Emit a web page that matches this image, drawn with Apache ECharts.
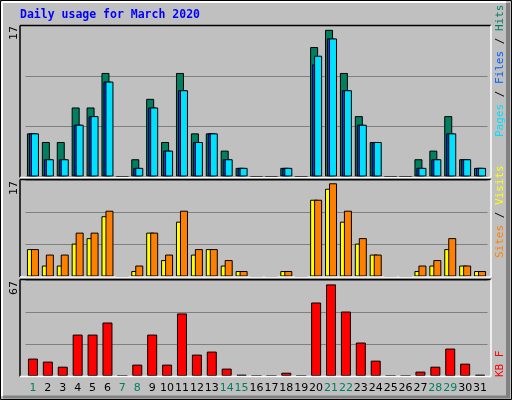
<!DOCTYPE html>
<html>
<head>
<meta charset="utf-8">
<script src="https://cdn.jsdelivr.net/npm/echarts@6/dist/echarts.min.js"></script>
<style>body{margin:0;background:#c0c0c0}#c{width:512px;height:400px}</style>
</head>
<body>
<div id="c"></div>
<script>
// daily usage, March 2020
var days = ['1','2','3','4','5','6','7','8','9','10','11','12','13','14','15','16','17','18','19','20','21','22','23','24','25','26','27','28','29','30','31'];
var weekend = ['1','7','8','14','15','21','22','28','29'];
var hits   = [5,4,4,8,8,12,0,2,9,4,12,5,5,3,1,0,0,1,0,15,17,12,7,4,0,0,2,3,7,2,1];
var files  = [5,2,2,6,7,11,0,1,8,3,10,4,5,2,1,0,0,1,0,14,16,10,6,4,0,0,1,2,5,2,1];
var pages  = [5,2,2,6,7,11,0,1,8,3,10,4,5,2,1,0,0,1,0,13,16,10,6,4,0,0,1,2,5,2,1];
var sites  = [5,2,2,6,7,11,0,1,8,3,10,4,5,2,1,0,0,1,0,14,16,10,6,4,0,0,1,2,5,2,1];
var visits = [5,4,4,8,8,12,0,2,8,4,12,5,5,3,1,0,0,1,0,14,17,12,7,4,0,0,2,3,7,2,1];
var kbytes = [12.7,10.5,6.8,30.2,30.2,39,0,8.3,30.2,8.3,45.6,15.6,17.8,5.4,1,0,0,2.4,0,53.6,66.8,47,24.4,11.2,0,0,3.2,6.8,20,9,1];
var maxHits = 17, maxVisits = 17, maxKB = 67;

var chart = echarts.init(document.getElementById('c'));
var L = 25.5, W = 462;
var edge = {borderColor: '#000', borderWidth: 1};

function yAx(idx, max) {
  return {
    gridIndex: idx, min: 0, max: max, interval: max / 3,
    axisLabel: {show: false}, axisLine: {show: false}, axisTick: {show: false},
    splitLine: {lineStyle: {color: '#808080', width: 1}}
  };
}
function xAx(idx, show) {
  return {
    type: 'category', gridIndex: idx, data: days,
    axisLine: {show: false}, axisTick: {show: false},
    axisLabel: {
      show: show, margin: 7, interval: 0,
      formatter: function (v) { return weekend.indexOf(v) >= 0 ? '{g|' + v + '}' : '{n|' + v + '}'; },
      rich: {
        g: {color: '#008060', fontSize: 11, fontFamily: 'DejaVu Sans'},
        n: {color: '#000', fontSize: 11, fontFamily: 'DejaVu Sans'}
      }
    }
  };
}
function vtext(x, y, parts) {
  var s = '', rich = {};
  parts.forEach(function (p, i) {
    s += '{p' + i + '|' + p[0] + '}';
    rich['p' + i] = {fill: p[1], fontFamily: 'DejaVu Sans Mono', fontSize: 11};
  });
  return {type: 'text', x: x, y: y, rotation: Math.PI / 2, z: 100,
    style: {text: s, rich: rich, align: 'left', verticalAlign: 'middle'}};
}
function panel(y1, y2) {
  return [
    {type: 'line', z: 100, shape: {x1: 20, y1: y1, x2: 491, y2: y1}, style: {stroke: '#000', lineWidth: 1.5}},
    {type: 'line', z: 100, shape: {x1: 20, y1: y1, x2: 20, y2: y2}, style: {stroke: '#000', lineWidth: 1.5}},
    {type: 'line', z: 100, shape: {x1: 20, y1: y2, x2: 491, y2: y2}, style: {stroke: '#fff', lineWidth: 1.5}},
    {type: 'line', z: 100, shape: {x1: 491, y1: y1, x2: 491, y2: y2}, style: {stroke: '#fff', lineWidth: 1.5}}
  ];
}

var g = [
  {type: 'rect', z: 100, shape: {x: 0.5, y: 0.5, width: 511, height: 399}, style: {fill: null, stroke: '#000', lineWidth: 1}},
  {type: 'line', z: 100, shape: {x1: 2, y1: 2, x2: 2, y2: 396}, style: {stroke: '#fff', lineWidth: 2}},
  {type: 'line', z: 100, shape: {x1: 2, y1: 2, x2: 506, y2: 2}, style: {stroke: '#fff', lineWidth: 2}},
  {type: 'line', z: 100, shape: {x1: 508, y1: 3, x2: 508, y2: 398}, style: {stroke: '#808080', lineWidth: 4}},
  {type: 'line', z: 100, shape: {x1: 3, y1: 397, x2: 510, y2: 397}, style: {stroke: '#808080', lineWidth: 3}},
  {type: 'text', x: 20, y: 15, z: 100, style: {text: 'Daily usage for March 2020', fill: '#0000ff',
    font: 'bold 11.5px "DejaVu Sans Mono"', verticalAlign: 'middle'}},
  {type: 'text', x: 14, y: 26, z: 100, rotation: Math.PI / 2, style: {text: String(maxHits), fill: '#000', font: '11px "DejaVu Sans"', align: 'right', verticalAlign: 'middle'}},
  {type: 'text', x: 14, y: 181, z: 100, rotation: Math.PI / 2, style: {text: String(maxVisits), fill: '#000', font: '11px "DejaVu Sans"', align: 'right', verticalAlign: 'middle'}},
  {type: 'text', x: 14, y: 281, z: 100, rotation: Math.PI / 2, style: {text: String(maxKB), fill: '#000', font: '11px "DejaVu Sans"', align: 'right', verticalAlign: 'middle'}},
  vtext(500, 137, [['Pages', '#00e0ff'], [' / ', '#000'], ['Files', '#0060ff'], [' / ', '#000'], ['Hits', '#008060']]),
  vtext(500, 258, [['Sites', '#ff8000'], [' / ', '#000'], ['Visits', '#ffff00']]),
  vtext(500, 377, [['KB F', '#ff0000']])
].concat(panel(25.5, 177.5), panel(179.5, 277), panel(279.5, 376.5));

chart.setOption({
  animation: false,
  backgroundColor: '#c0c0c0',
  grid: [
    {left: L, width: W, top: 25.5, height: 151},
    {left: L, width: W, top: 180, height: 96.5},
    {left: L, width: W, top: 280, height: 96}
  ],
  xAxis: [xAx(0, false), xAx(1, false), xAx(2, true)],
  yAxis: [yAx(0, 17.5), yAx(1, 17.6), yAx(2, 70)],
  series: [
    {type: 'bar', name: 'Hits', xAxisIndex: 0, yAxisIndex: 0, data: hits, barWidth: 8, barGap: '-75%', itemStyle: Object.assign({color: '#008060'}, edge)},
    {type: 'bar', name: 'Pages', xAxisIndex: 0, yAxisIndex: 0, data: pages, barWidth: 8, barGap: '-75%', itemStyle: Object.assign({color: '#0040ff'}, edge)},
    {type: 'bar', name: 'Files', xAxisIndex: 0, yAxisIndex: 0, data: files, barWidth: 8, barGap: '-75%', itemStyle: Object.assign({color: '#00e0ff'}, edge)},
    {type: 'bar', name: 'Sites', xAxisIndex: 1, yAxisIndex: 1, data: sites, barWidth: 8, barGap: '-50%', itemStyle: Object.assign({color: '#ffff00'}, edge)},
    {type: 'bar', name: 'Visits', xAxisIndex: 1, yAxisIndex: 1, data: visits, barWidth: 8, barGap: '-50%', itemStyle: Object.assign({color: '#ff8000'}, edge)},
    {type: 'bar', name: 'KBytes', xAxisIndex: 2, yAxisIndex: 2, data: kbytes, barWidth: 10, itemStyle: Object.assign({color: '#ff0000'}, edge)}
  ],
  graphic: g
});
</script>
</body>
</html>
